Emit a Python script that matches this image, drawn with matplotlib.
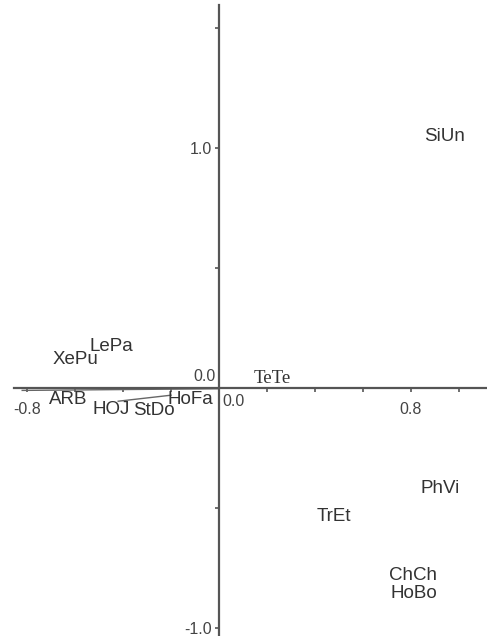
import matplotlib.pyplot as plt

plt.rcParams['font.family'] = ['Liberation Sans', 'DejaVu Sans']

# species scores on the two ordination axes
names = ['SiUn', 'PhVi', 'TrEt', 'ChCh', 'HoBo', 'TeTe',
         'XePu', 'LePa', 'ARB', 'HOJ', 'StDo', 'HoFa']
axis1 = [0.94, 0.92, 0.48, 0.81, 0.81, 0.22,
         -0.60, -0.45, -0.63, -0.45, -0.27, -0.12]
axis2 = [1.046, -0.417, -0.537, -0.78, -0.855, 0.04,
         0.117, 0.171, -0.046, -0.09, -0.092, -0.046]

# thin vector lines near the origin
vec_x = [[-0.82, 0.0], [-0.42, -0.2]]
vec_y = [[-0.01, -0.003], [-0.055, -0.03]]

xticks = [-0.8, -0.6, -0.4, -0.2, 0.2, 0.4, 0.6, 0.8, 1.0]
xlabels = ['-0.8', '', '', '', '', '', '', '0.8', '']
yticks = [-1.0, -0.5, 0.5, 1.0, 1.5]
ylabels = ['-1.0', '', '', '1.0', '']

fig = plt.figure(figsize=(4.87, 6.36), dpi=100)
ax = fig.add_axes([0, 0, 1, 1])
ax.set_xlim(-0.9125, 1.1167)
ax.set_ylim(-1.0333, 1.6167)

axcol = '#555555'
for side in ['top', 'right']:
    ax.spines[side].set_visible(False)
ax.spines['left'].set_position(('data', 0))
ax.spines['bottom'].set_position(('data', 0))
ax.spines['left'].set_bounds(-1.04, 1.595)
ax.spines['bottom'].set_bounds(-0.855, 1.12)
for side in ['left', 'bottom']:
    ax.spines[side].set_color(axcol)
    ax.spines[side].set_linewidth(1.6)

ax.set_xticks(xticks)
ax.set_xticklabels(xlabels)
ax.set_yticks(yticks)
ax.set_yticklabels(ylabels)
ax.tick_params(axis='both', colors=axcol, labelcolor='#444444',
               labelsize=11.5, length=3, width=1.2, direction='out', pad=7)
ax.tick_params(axis='y', pad=2)

# zero labels on both sides of the origin
ax.text(-0.012, 0.015, '0.0', ha='right', va='bottom', fontsize=11.5, color='#444444')
ax.text(0.012, -0.025, '0.0', ha='left', va='top', fontsize=11.5, color='#444444')

for xs, ys in zip(vec_x, vec_y):
    ax.plot(xs, ys, color='#666666', lw=1.0)

for n, x, y in zip(names, axis1, axis2):
    fam = ['Liberation Serif'] if n == 'TeTe' else ['Liberation Sans', 'DejaVu Sans']
    ax.text(x, y, n, ha='center', va='center', fontsize=13.5,
            color='#333333', family=fam)

fig.savefig('out.png', dpi=100)
